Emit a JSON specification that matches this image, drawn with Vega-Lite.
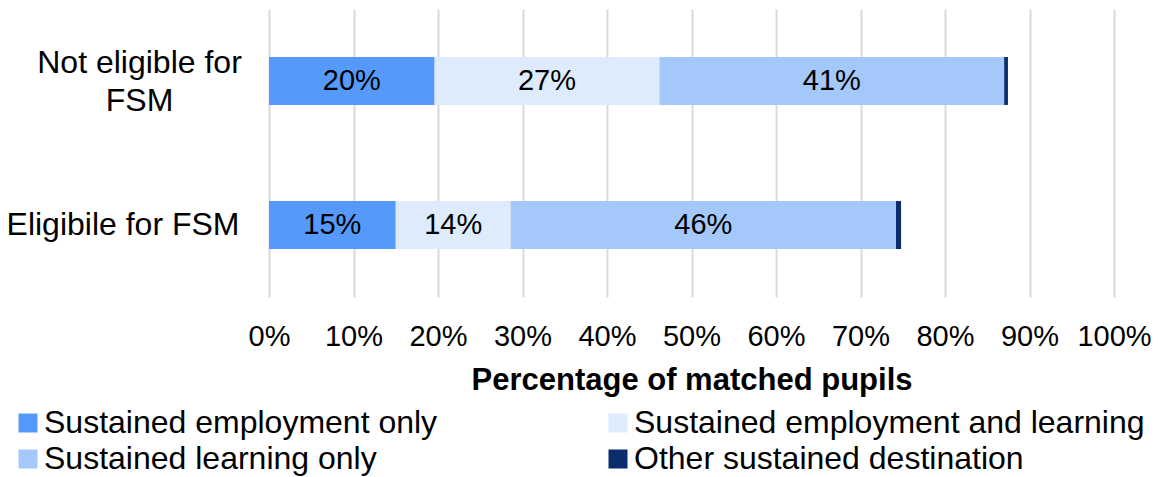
{
  "$schema": "https://vega.github.io/schema/vega-lite/v6.json",
  "width": 845,
  "height": 288,
  "autosize": {"type": "none"},
  "padding": {"left": 269, "top": 9, "right": 48, "bottom": 180},
  "background": "white",
  "config": {"view": {"stroke": null}, "font": "Liberation Sans"},
  "data": {"values": [
    {"group": "Not eligible for FSM", "destination": "Sustained employment only", "k": 1, "share": 0.196},
    {"group": "Not eligible for FSM", "destination": "Sustained employment and learning", "k": 2, "share": 0.266},
    {"group": "Not eligible for FSM", "destination": "Sustained learning only", "k": 3, "share": 0.408},
    {"group": "Not eligible for FSM", "destination": "Other sustained destination", "k": 4, "share": 0.0045},
    {"group": "Eligibile for FSM", "destination": "Sustained employment only", "k": 1, "share": 0.150},
    {"group": "Eligibile for FSM", "destination": "Sustained employment and learning", "k": 2, "share": 0.136},
    {"group": "Eligibile for FSM", "destination": "Sustained learning only", "k": 3, "share": 0.456},
    {"group": "Eligibile for FSM", "destination": "Other sustained destination", "k": 4, "share": 0.006}
  ]},
  "encoding": {
    "y": {
      "field": "group", "type": "nominal",
      "sort": ["Not eligible for FSM", "Eligibile for FSM"],
      "scale": {"paddingInner": 0.667, "paddingOuter": 0.333},
      "axis": {
        "title": null, "domain": false, "ticks": false,
        "labelFontSize": 32, "labelColor": "black", "labelLineHeight": 38,
        "labelBaseline": "middle", "labelLimit": 400,
        "labelExpr": "datum.value == 'Not eligible for FSM' ? ['Not eligible for', 'FSM'] : datum.value",
        "labelAlign": {"condition": {"test": "datum.value == 'Not eligible for FSM'", "value": "center"}, "value": "right"},
        "labelPadding": {"condition": {"test": "datum.value == 'Not eligible for FSM'", "value": 130}, "value": 30},
        "labelOffset": {"condition": {"test": "datum.value == 'Not eligible for FSM'", "value": -18}, "value": 0}
      }
    }
  },
  "layer": [
    {
      "mark": {"type": "bar"},
      "encoding": {
        "x": {
          "field": "share", "type": "quantitative", "stack": "zero",
          "scale": {"domain": [0, 1], "nice": false},
          "axis": {
            "format": ".0%", "values": [0, 0.1, 0.2, 0.3, 0.4, 0.5, 0.6, 0.7, 0.8, 0.9, 1],
            "title": "Percentage of matched pupils", "titleFontSize": 31, "titleFontWeight": "bold",
            "titleColor": "black", "titlePadding": 14,
            "labelFontSize": 29, "labelColor": "black", "labelPadding": 25,
            "labelFlush": false, "labelOverlap": false,
            "domain": false, "ticks": false, "grid": true, "gridColor": "#D9D9D9", "gridWidth": 2
          }
        },
        "color": {
          "field": "destination", "type": "nominal",
          "scale": {
            "domain": ["Sustained employment only", "Sustained learning only", "Sustained employment and learning", "Other sustained destination"],
            "range": ["#559AFA", "#A3C8F9", "#DDEBFD", "#0B2D6B"]
          },
          "legend": {
            "title": null, "orient": "none", "legendX": -257, "legendY": 398,
            "columns": 2, "padding": 0, "columnPadding": 164, "rowPadding": 4,
            "symbolType": "square", "symbolSize": 361, "symbolStrokeWidth": 0, "symbolOpacity": 1,
            "labelFontSize": 32, "labelColor": "black", "labelLimit": 700, "labelOffset": 0
          }
        },
        "order": {"field": "k", "type": "quantitative"}
      }
    },
    {
      "transform": [
        {"stack": "share", "groupby": ["group"], "sort": [{"field": "k"}], "as": ["s0", "s1"]},
        {"calculate": "(datum.s0 + datum.s1) / 2", "as": "mid"},
        {"filter": "datum.k < 4"}
      ],
      "mark": {"type": "text", "fontSize": 29, "color": "black", "baseline": "middle", "align": "center"},
      "encoding": {
        "x": {"field": "mid", "type": "quantitative", "title": "Percentage of matched pupils"},
        "text": {"field": "share", "type": "quantitative", "format": ".0%"}
      }
    }
  ]
}
